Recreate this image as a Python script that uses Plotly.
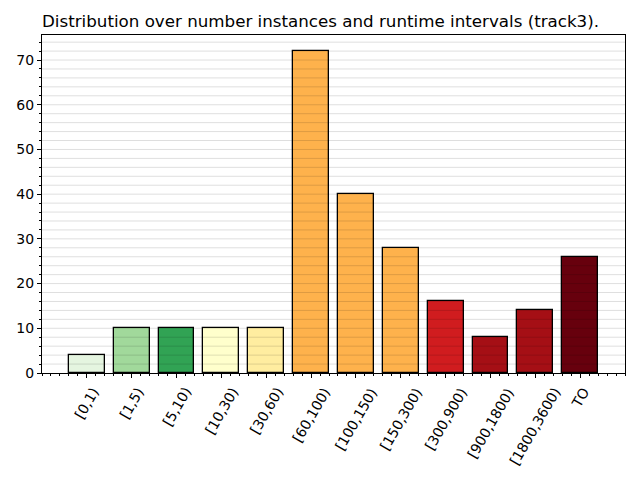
import plotly.graph_objects as go

categories = ["[0,1)", "[1,5)", "[5,10)", "[10,30)", "[30,60)", "[60,100)",
              "[100,150)", "[150,300)", "[300,900)", "[900,1800)", "[1800,3600)", "TO"]
counts = [4, 10, 10, 10, 10, 72, 40, 28, 16, 8, 14, 26]
bar_colors = ["#e5f5e0", "#a1d99b", "#31a354", "#ffffcc", "#ffeda0", "#feb24c",
              "#feb24c", "#feb24c", "#d01c1f", "#a50f15", "#a50f15", "#67000d"]

positions = list(range(len(categories)))
y_top = 75.6
grid_step = 2

fig = go.Figure()
fig.add_trace(go.Bar(
    x=positions, y=counts, width=0.8,
    marker=dict(color=bar_colors, line=dict(color="black", width=1.3)),
))

# rotated labels centred under each tick (matplotlib style)
for pos, label in zip(positions, categories):
    fig.add_annotation(x=pos, xref="x", y=0, yref="paper", text=label,
                       showarrow=False, textangle=-60, xanchor="center",
                       yanchor="top", yshift=-9, font=dict(size=14))

# horizontal grid drawn over the bars, semi-transparent
for gy in range(grid_step, int(y_top) + 1, grid_step):
    fig.add_shape(type="line", xref="paper", x0=0, x1=1, yref="y", y0=gy, y1=gy,
                  layer="above", line=dict(color="rgba(0,0,0,0.13)", width=1))

# the page body has an 8px margin, so shift margins to compensate
fig.update_layout(
    width=640, height=480,
    margin=dict(l=34, r=23, t=27, b=115),
    plot_bgcolor="white", paper_bgcolor="white",
    font=dict(family="DejaVu Sans", size=14, color="black"),
    title=dict(text="Distribution over number instances and runtime intervals (track3).",
               xref="paper", x=0, xanchor="left",
               yref="container", y=0.973, yanchor="middle",
               font=dict(size=16.7)),
    showlegend=False,
    bargap=0,
)
fig.update_xaxes(
    range=[-1, 12], tickmode="array", tickvals=positions, showticklabels=False,
    ticks="outside", ticklen=4, tickcolor="black", automargin=False,
    showline=True, linecolor="black", linewidth=1, mirror=True,
    showgrid=False, zeroline=False,
    minor=dict(dtick=0.2, tick0=0, ticks="outside", ticklen=2, tickcolor="black"),
)
fig.update_yaxes(
    range=[0, y_top], dtick=10, ticks="outside", ticklen=4, tickcolor="black", automargin=False,
    showline=True, linecolor="black", linewidth=1, mirror=True,
    showgrid=False, zeroline=False,
    minor=dict(dtick=grid_step, ticks="outside", ticklen=2, tickcolor="black", showgrid=False),
)

fig.write_html("out.html")
